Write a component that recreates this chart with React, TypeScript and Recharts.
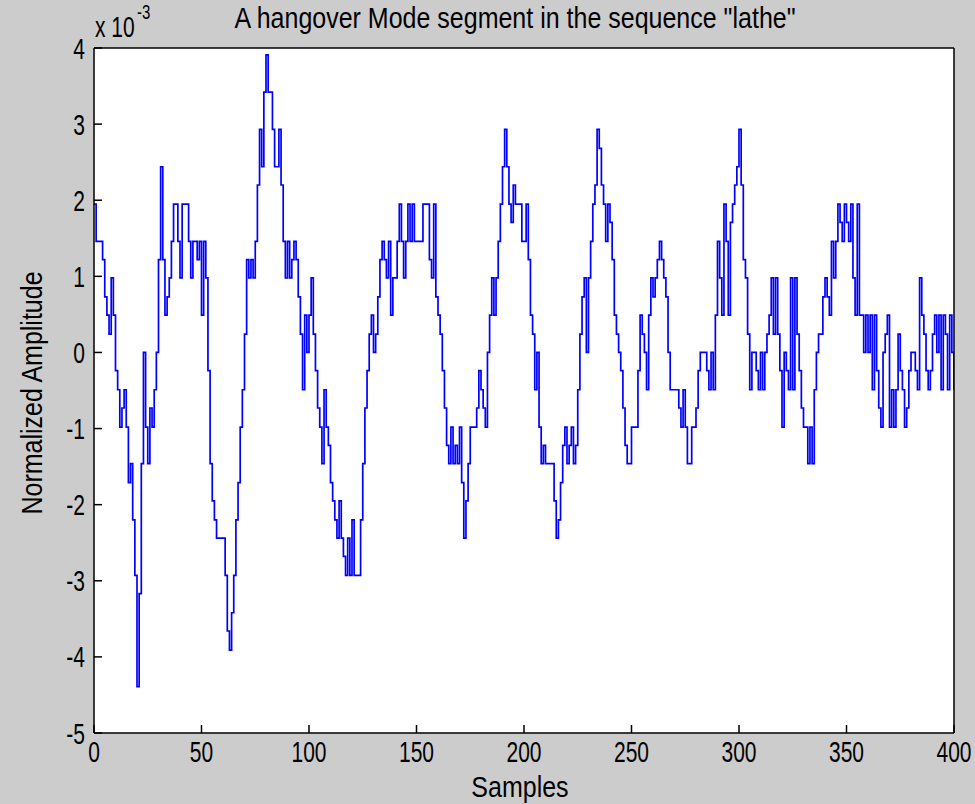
import React from 'react';
import { LineChart, Line, XAxis, YAxis, CartesianGrid } from 'recharts';

// Normalized amplitude (x 10^-3) for samples 0..400
const amplitude: number[] = [
  1.95, 1.46, 1.46, 1.46, 1.22, 0.73, 0.49, 0.24, 0.98, 0.49,
  -0.24, -0.49, -0.98, -0.73, -0.49, -0.98, -1.71, -1.46, -2.2, -2.93,
  -4.39, -3.17, -1.46, 0, -0.98, -1.46, -0.73, -0.98, -0.49, 0,
  1.22, 2.44, 1.22, 0.49, 0.73, 0.98, 1.46, 1.95, 1.95, 1.46,
  0.98, 1.95, 1.95, 1.95, 1.46, 0.98, 1.46, 1.46, 1.22, 1.46,
  0.49, 1.46, 0.98, -0.24, -1.46, -1.95, -2.2, -2.44, -2.44, -2.44,
  -2.44, -2.93, -3.66, -3.91, -3.42, -2.93, -2.2, -1.71, -0.98, -0.49,
  0.24, 1.22, 0.98, 1.22, 0.98, 1.46, 2.2, 2.93, 2.44, 3.42,
  3.91, 3.42, 3.42, 2.93, 2.44, 2.44, 2.93, 2.2, 1.46, 0.98,
  1.46, 0.98, 1.22, 1.46, 1.22, 0.73, 0.24, -0.49, 0.49, 0,
  0.49, 0.98, 0.24, -0.24, -0.73, -0.98, -1.46, -0.49, -0.98, -1.22,
  -1.71, -1.95, -2.2, -2.44, -1.95, -2.44, -2.68, -2.93, -2.44, -2.93,
  -2.2, -2.93, -2.93, -2.93, -2.2, -1.46, -0.73, -0.24, 0.24, 0.49,
  0, 0.24, 0.73, 1.22, 1.46, 1.22, 0.98, 1.46, 0.49, 0.98,
  0.98, 1.46, 1.95, 1.46, 0.98, 1.46, 1.95, 1.46, 1.95, 1.46,
  1.46, 1.46, 1.46, 1.95, 1.95, 1.95, 1.22, 0.98, 1.95, 0.73,
  0.49, 0.24, -0.24, -0.73, -1.22, -1.46, -0.98, -1.46, -1.22, -1.46,
  -0.98, -1.71, -2.44, -1.95, -1.46, -0.98, -0.98, -0.98, -0.73, -0.24,
  -0.49, -0.73, -0.98, 0, 0.49, 0.98, 0.49, 0.98, 1.46, 1.95,
  2.44, 2.93, 2.44, 1.95, 1.71, 2.2, 1.95, 1.95, 1.95, 1.46,
  1.46, 1.95, 1.22, 0.49, 0.24, -0.49, 0, -0.98, -1.46, -1.22,
  -1.46, -1.46, -1.46, -1.46, -1.95, -2.44, -2.2, -1.71, -1.22, -0.98,
  -1.46, -1.22, -0.98, -1.46, -1.22, -0.49, 0.24, 0.73, 0.98, 0,
  0.98, 1.46, 1.95, 2.2, 2.93, 2.68, 2.2, 1.95, 1.46, 1.95,
  1.71, 1.22, 0.49, 0.24, 0, -0.24, -0.73, -1.22, -1.46, -1.46,
  -0.98, -0.98, -0.98, -0.24, 0.49, 0.24, 0, -0.49, 0.49, 0.98,
  0.73, 0.98, 1.22, 1.46, 1.22, 0.98, 0.73, 0, -0.49, -0.49,
  -0.49, -0.49, -0.73, -0.98, -0.49, -0.98, -1.46, -1.46, -0.98, -0.98,
  -0.73, -0.24, 0, 0, 0, -0.24, -0.49, 0, -0.49, 0.49,
  1.46, 0.98, 0.49, 1.95, 1.46, 0.49, 1.71, 1.95, 2.2, 2.44,
  2.93, 2.2, 1.22, 0.98, 0.24, -0.49, 0, 0, -0.24, -0.49,
  0, -0.49, 0, 0.24, 0.49, 0.98, 0.24, 0.98, 0.24, -0.24,
  -0.98, 0, -0.24, -0.49, 0.98, -0.49, 0.98, 0.24, -0.24, -0.73,
  -0.98, -0.98, -1.46, -0.98, -1.46, -0.49, 0, 0.24, 0.24, 0.73,
  0.98, 0.73, 0.49, 1.46, 0.98, 1.46, 1.95, 1.71, 1.46, 1.95,
  1.71, 1.46, 1.95, 0.98, 0.49, 1.95, 0.49, 0.49, 0, 0.49,
  0, 0.49, -0.49, 0.49, -0.24, -0.73, -0.98, 0, 0.24, 0.49,
  -0.98, -0.49, -0.98, -0.49, 0.24, -0.24, -0.49, -0.98, -0.73, -0.24,
  0, 0, -0.24, -0.49, 0.98, 0.49, 0.24, -0.24, -0.49, -0.24,
  0.24, 0.49, 0, 0.49, -0.49, 0.49, 0.24, -0.49, 0.49, 0,
  -0.49,
];

const xTicks: number[] = [0, 50, 100, 150, 200, 250, 300, 350, 400];
const yTicks: number[] = [-5, -4, -3, -2, -1, 0, 1, 2, 3, 4];
const titleText = 'A hangover Mode segment in the sequence "lathe"';
const xLabelText = 'Samples';
const yLabelText = 'Normalized Amplitude';
const scaleBase = 'x 10';
const scaleExp = '-3';

const data = amplitude.map((v, i) => ({ sample: i, amp: v }));

const FONT = '"Liberation Sans", Arial, Helvetica, sans-serif';
const TICK_FS = 21;
const TICK_SY = 1.4;
const LABEL_FS = 25;
const LABEL_SY = 1.15;

const BottomTick = (props: any) => {
  const { x, y, payload } = props;
  return (
    <g transform={`translate(${x},${y + 29}) scale(1,${TICK_SY})`}>
      <text x={0} y={0} textAnchor="middle" fontFamily={FONT} fontSize={TICK_FS} fill="#000">
        {payload.value}
      </text>
    </g>
  );
};

const LeftTick = (props: any) => {
  const { x, y, payload } = props;
  return (
    <g transform={`translate(${x - 9},${y + 10.5}) scale(1,${TICK_SY})`}>
      <text x={0} y={0} textAnchor="end" fontFamily={FONT} fontSize={TICK_FS} fill="#000">
        {payload.value}
      </text>
    </g>
  );
};

const axisLineStyle = { stroke: '#000', strokeWidth: 1.5 };
const tickLineStyle = { stroke: '#000', strokeWidth: 1.5 };

export default function App() {
  return (
    <div
      style={{
        position: 'absolute',
        left: 0,
        top: 0,
        width: 975,
        height: 804,
        background: '#cccccc',
        overflow: 'hidden',
      }}
    >
      <LineChart
        width={975}
        height={804}
        data={data}
        margin={{ top: 47, right: 20, bottom: 0, left: 0 }}
      >
        <CartesianGrid fill="#ffffff" stroke="none" horizontal={false} vertical={false} />
        <XAxis
          dataKey="sample"
          type="number"
          domain={[0, 400]}
          ticks={xTicks}
          allowDataOverflow
          height={71}
          tickSize={-8}
          tickMargin={8}
          axisLine={axisLineStyle}
          tickLine={tickLineStyle}
          tick={<BottomTick />}
          interval={0}
        />
        <XAxis
          xAxisId="top"
          orientation="top"
          dataKey="sample"
          type="number"
          domain={[0, 400]}
          ticks={xTicks}
          allowDataOverflow
          height={1}
          tickSize={-8}
          axisLine={axisLineStyle}
          tickLine={tickLineStyle}
          tick={false}
          interval={0}
        />
        <YAxis
          type="number"
          domain={[-5, 4]}
          ticks={yTicks}
          allowDataOverflow
          width={94}
          tickSize={-8}
          tickMargin={8}
          axisLine={axisLineStyle}
          tickLine={tickLineStyle}
          tick={<LeftTick />}
          interval={0}
        />
        <YAxis
          yAxisId="right"
          orientation="right"
          type="number"
          domain={[-5, 4]}
          ticks={yTicks}
          allowDataOverflow
          width={1}
          tickSize={-8}
          axisLine={axisLineStyle}
          tickLine={tickLineStyle}
          tick={false}
          interval={0}
        />
        <Line
          type="stepAfter"
          dataKey="amp"
          stroke="#0000ff"
          strokeWidth={1.7}
          dot={false}
          activeDot={false}
          isAnimationActive={false}
        />
      </LineChart>
      <svg
        width={975}
        height={804}
        style={{ position: 'absolute', left: 0, top: 0, pointerEvents: 'none' }}
      >
        <g transform={`translate(515,28) scale(1,${LABEL_SY})`}>
          <text x={0} y={0} textAnchor="middle" fontFamily={FONT} fontSize={LABEL_FS} fill="#000">
            {titleText}
          </text>
        </g>
        <g transform={`translate(95,37) scale(1,${TICK_SY})`}>
          <text x={0} y={0} fontFamily={FONT} fontSize={TICK_FS} fill="#000">
            {scaleBase}
          </text>
        </g>
        <g transform={`translate(137,19) scale(1,${TICK_SY})`}>
          <text x={0} y={0} fontFamily={FONT} fontSize={15} fill="#000">
            {scaleExp}
          </text>
        </g>
        <g transform={`translate(520,797) scale(1,${LABEL_SY})`}>
          <text x={0} y={0} textAnchor="middle" fontFamily={FONT} fontSize={LABEL_FS} fill="#000">
            {xLabelText}
          </text>
        </g>
        <g transform={`translate(42,393) rotate(-90) scale(1,${LABEL_SY})`}>
          <text x={0} y={0} textAnchor="middle" fontFamily={FONT} fontSize={LABEL_FS} fill="#000">
            {yLabelText}
          </text>
        </g>
      </svg>
    </div>
  );
}
